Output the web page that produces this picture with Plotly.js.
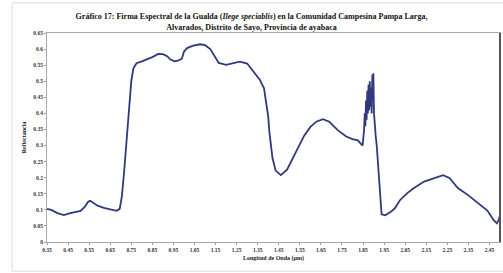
<!DOCTYPE html>
<html>
<head>
<meta charset="utf-8">
<script src="https://cdn.plot.ly/plotly-3.0.1.min.js"></script>
<style>html,body{margin:0;padding:0;background:#fff;}#chart{width:503px;height:273px;}</style>
</head>
<body>
<div id="chart"></div>
<script>
// Wavelength (µm)
const wavelength = [
  0.35, 0.37, 0.40, 0.43, 0.46, 0.49, 0.51, 0.53, 0.545, 0.555,
  0.57, 0.59, 0.62, 0.65, 0.68, 0.695, 0.705, 0.715, 0.725, 0.733,
  0.742, 0.75, 0.76, 0.775, 0.80, 0.823, 0.85, 0.878, 0.90, 0.92,
  0.935, 0.955, 0.975, 0.99, 1.00, 1.015, 1.04, 1.076, 1.10, 1.125,
  1.145, 1.165, 1.20, 1.23, 1.265, 1.30, 1.33, 1.36, 1.38, 1.39,
  1.40, 1.405, 1.41, 1.42, 1.435, 1.46, 1.49, 1.52, 1.55, 1.57,
  1.60, 1.63, 1.66, 1.69, 1.73, 1.77, 1.80, 1.825, 1.84, 1.848,
  1.855, 1.858, 1.861, 1.864, 1.867, 1.870, 1.873, 1.876, 1.879, 1.882,
  1.885, 1.888, 1.891, 1.894, 1.897, 1.899, 1.902, 1.905, 1.91, 1.915,
  1.92, 1.93, 1.938, 1.955, 1.98, 2.00, 2.025, 2.06, 2.09, 2.14,
  2.19, 2.23, 2.26, 2.30, 2.35, 2.39, 2.44, 2.47, 2.485, 2.495,
  2.50
];
// Reflectance
const reflectance = [
  0.103, 0.100, 0.090, 0.084, 0.090, 0.094, 0.097, 0.110, 0.125, 0.128,
  0.122, 0.113, 0.106, 0.102, 0.097, 0.103, 0.140, 0.210, 0.290, 0.360,
  0.440, 0.500, 0.540, 0.556, 0.562, 0.568, 0.575, 0.585, 0.584, 0.578,
  0.568, 0.562, 0.565, 0.570, 0.592, 0.603, 0.610, 0.615, 0.612, 0.600,
  0.578, 0.557, 0.551, 0.556, 0.561, 0.555, 0.530, 0.505, 0.478, 0.440,
  0.390, 0.345, 0.312, 0.262, 0.222, 0.208, 0.226, 0.265, 0.305, 0.330,
  0.358, 0.375, 0.382, 0.374, 0.348, 0.328, 0.320, 0.316, 0.305, 0.300,
  0.350, 0.400, 0.360, 0.440, 0.380, 0.470, 0.400, 0.490, 0.410, 0.500,
  0.420, 0.480, 0.400, 0.520, 0.440, 0.525, 0.400, 0.360, 0.330, 0.300,
  0.250, 0.160, 0.086, 0.083, 0.093, 0.104, 0.130, 0.152, 0.167, 0.188,
  0.200, 0.208, 0.199, 0.168, 0.145, 0.125, 0.098, 0.068, 0.058, 0.070,
  0.085
];
const xTickVals = [0.35,0.45,0.55,0.65,0.75,0.85,0.95,1.05,1.15,1.25,1.35,1.45,1.55,1.65,1.75,1.85,1.95,2.05,2.15,2.25,2.35,2.45];
const xTickText = ["0.35","0.45","0.55","0.65","0.75","0.85","0.95","1.05","1.15","1.25","1.35","1.45","1.55","1.65","1.75","1.85","1.95","2.05","2.15","2.25","2.35","2.45"];
const yTickVals = [0,0.05,0.1,0.15,0.2,0.25,0.3,0.35,0.4,0.45,0.5,0.55,0.6,0.65];
const yTickText = ["0","0.05","0.1","0.15","0.2","0.25","0.3","0.35","0.4","0.45","0.5","0.55","0.6","0.65"];

const titleText = "Gráfico 17: Firma Espectral de la Gualda (<i>Ilege speciablis</i>) en la Comunidad Campesina Pampa Larga,<br>Alvarados, Distrito de Sayo, Provincia de ayabaca";
const serif = "Liberation Serif, Times New Roman, serif";

const trace = {
  x: wavelength, y: reflectance, type: 'scatter', mode: 'lines',
  line: {color: '#2e3a7c', width: 1.8},
  hoverinfo: 'x+y'
};

const layout = {
  width: 503, height: 273,
  margin: {l: 47, r: 3, t: 33, b: 31},
  paper_bgcolor: '#ffffff', plot_bgcolor: '#ffffff',
  showlegend: false,
  title: {
    text: titleText,
    font: {family: serif, size: 8, color: '#111', weight: 'bold'},
    x: 0.5, xref: 'container', xanchor: 'center',
    y: 0.93, yref: 'container', yanchor: 'middle'
  },
  xaxis: {
    range: [0.35, 2.5],
    tickvals: xTickVals, ticktext: xTickText,
    tickangle: 0,
    tickfont: {family: serif, size: 5.5, color: '#333', weight: 'bold'},
    ticks: 'outside', ticklen: 2, tickcolor: '#999',
    showgrid: false, zeroline: false,
    showline: true, linecolor: '#aaa', linewidth: 1, mirror: true,
    title: {text: 'Longitud de Onda (µm)', font: {family: serif, size: 6, color: '#222', weight: 'bold'}, standoff: 4}
  },
  yaxis: {
    range: [0, 0.65],
    tickvals: yTickVals, ticktext: yTickText,
    tickfont: {family: serif, size: 5.5, color: '#333', weight: 'bold'},
    ticks: 'outside', ticklen: 2, tickcolor: '#999',
    showgrid: false, zeroline: false,
    showline: true, linecolor: '#aaa', linewidth: 1, mirror: true,
    title: {text: 'Reflectancia', font: {family: serif, size: 6, color: '#222', weight: 'bold'}, standoff: 6}
  },
  shapes: [
    {type: 'rect', xref: 'paper', yref: 'paper', x0: -0.077, x1: 1.03, y0: -0.14, y1: 1.145,
     line: {color: '#dddddd', width: 1}, fillcolor: 'rgba(0,0,0,0)', layer: 'below'},
    {type: 'line', xref: 'paper', yref: 'paper', x0: 1, x1: 1, y0: 0, y1: 1,
     line: {color: '#555555', width: 2}}
  ]
};

Plotly.newPlot('chart', [trace], layout, {displayModeBar: false, staticPlot: true});
</script>
</body>
</html>
